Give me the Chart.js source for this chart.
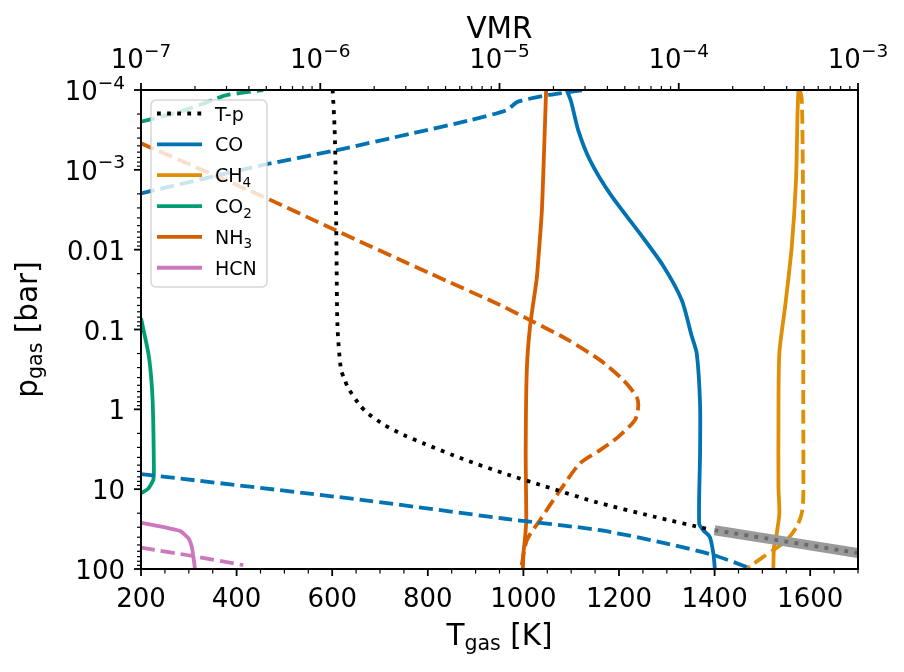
<!DOCTYPE html>
<html>
<head>
<meta charset="utf-8">
<title>T-p and VMR</title>
<script src="https://cdn.jsdelivr.net/npm/chart.js@4.4.1/dist/chart.umd.min.js"></script>
<style>
  html, body { margin: 0; padding: 0; background: #fff; }
  #wrap { width: 904px; height: 672px; position: relative; }
</style>
</head>
<body>
<div id="wrap"><canvas id="graph"></canvas></div>
<script>
// --- T-p profile (bottom axis, K) ---
const tpP = [1e-4, 3e-4, 1e-3, 0.01, 0.09, 0.31, 0.41, 0.55, 0.89, 1.13, 1.58, 2.1, 2.67, 4.2, 6.3, 9.1, 14.4, 22, 31.7];
const tpT = [601, 605, 607, 609, 611, 618, 625, 634, 658, 675, 710, 750, 791, 874, 958, 1042, 1150, 1272, 1387];

// grey band beyond the model
const bandP = [32.7, 63];
const bandT = [1400, 1700];

// --- VMR (top axis) : solid and dashed curves ---
const coP = [1e-4, 1.4e-4, 3.2e-4, 7.6e-4, 2e-3, 6.3e-3, 0.016, 0.043, 0.12, 0.2, 0.85, 3.5, 26.9, 32.7, 39.6, 64, 100];
const coV = [2.37e-5, 2.51e-5, 2.75e-5, 3.2e-5, 4.14e-5, 6.08e-5, 8.2e-5, 1.04e-4, 1.18e-4, 1.26e-4, 1.315e-4, 1.315e-4, 1.30e-4, 1.37e-4, 1.49e-4, 1.56e-4, 1.59e-4];
const coDashTopP = [1.97e-3, 8.7e-4, 5.75e-4, 3.47e-4, 2.4e-4, 1.78e-4, 1.41e-4, 1.15e-4, 1e-4];
const coDashTopV = [1e-7, 4.8e-7, 1.2e-6, 3.3e-6, 6.8e-6, 1.1e-5, 1.26e-5, 1.9e-5, 3.0e-5];
const coDashLowP = [6.46, 13.7, 23.3, 32.7, 48, 67.1, 94.2, 100];
const coDashLowV = [1e-7, 1.74e-6, 1.05e-5, 3.64e-5, 8.57e-5, 1.56e-4, 2.39e-4, 2.49e-4];

const ch4P = [1e-4, 1.9e-4, 1.34e-3, 9.2e-3, 0.052, 0.2, 1.36, 9.35, 20.2, 36, 52.8, 100];
const ch4V = [4.65e-4, 4.6e-4, 4.51e-4, 4.27e-4, 3.92e-4, 3.64e-4, 3.6e-4, 3.6e-4, 3.64e-4, 3.52e-4, 3.4e-4, 3.37e-4];
const ch4DashP = [1e-4, 1.26e-4, 5.1e-4, 0.01, 1, 12.6, 20.2, 29.6, 43.6, 58, 70.5, 89.5, 100];
const ch4DashV = [4.74e-4, 4.85e-4, 4.91e-4, 4.95e-4, 4.95e-4, 4.95e-4, 4.85e-4, 4.55e-4, 4.0e-4, 3.37e-4, 2.96e-4, 2.55e-4, 2.37e-4];

const co2P = [0.072, 0.2, 0.52, 1.36, 5.8, 7.7, 9.8, 11.3];
const co2V = [1e-7, 1.1e-7, 1.15e-7, 1.17e-7, 1.18e-7, 1.17e-7, 1.1e-7, 1.0e-7];
const co2DashP = [2.5e-4, 1.87e-4, 1.33e-4, 1.16e-4, 1e-4];
const co2DashV = [1e-7, 1.65e-7, 2.53e-7, 3.0e-7, 4.8e-7];

const nh3P = [1e-4, 1.34e-3, 3.5e-3, 0.0149, 0.024, 0.0925, 0.323, 3.57, 24.5, 39.6, 64, 100];
const nh3V = [1.82e-5, 1.75e-5, 1.72e-5, 1.64e-5, 1.61e-5, 1.48e-5, 1.42e-5, 1.40e-5, 1.41e-5, 1.39e-5, 1.36e-5, 1.35e-5];
const nh3DashP = [4.66e-4, 2.17e-3, 5.68e-3, 0.0198, 0.0494, 0.0762, 0.132, 0.242, 0.431, 0.697, 0.931, 1.36, 2.21, 3.24, 4.76, 10.3, 24.5, 43.6, 89.5];
const nh3DashV = [1e-7, 4.81e-7, 1.21e-6, 4.09e-6, 1.007e-5, 1.479e-5, 2.37e-5, 3.64e-5, 4.91e-5, 5.82e-5, 5.94e-5, 5.70e-5, 4.60e-5, 3.64e-5, 2.81e-5, 2.18e-5, 1.68e-5, 1.42e-5, 1.33e-5];

const hcnP = [26.4, 33.3, 41.4, 52.5, 70, 100];
const hcnV = [1.01e-7, 1.65e-7, 1.84e-7, 1.92e-7, 1.96e-7, 2.0e-7];
const hcnDashP = [54, 69, 89.5];
const hcnDashV = [1e-7, 1.96e-7, 3.72e-7];

// axis ticks
const tTicks = [200, 400, 600, 800, 1000, 1200, 1400, 1600];
const pTicks = [1e-4, 1e-3, 0.01, 0.1, 1, 10, 100];
const pTickLabels = ['-4', '-3', '0.01', '0.1', '1', '10', '100'];
const vmrTicks = [1e-7, 1e-6, 1e-5, 1e-4, 1e-3];

const couleurs = { CO: '#0173b2', CH4: '#de8f05', CO2: '#029e73', NH3: '#d55e00', HCN: '#cc78bc' };
const FONT = '"DejaVu Sans", sans-serif';
const LW = 3.8;
const TIRETS = [14, 6];
const POINTS = [3.8, 6.3];

function courbe(pArr, vals, color, dashed, axe) {
    return {
        data: pArr.map((p, i) => ({ x: vals[i], y: p })),
        xAxisID: axe || 'x2',
        yAxisID: 'y',
        borderColor: color,
        borderWidth: LW,
        borderDash: dashed ? TIRETS : [],
        pointRadius: 0,
        fill: false,
        tension: 0.25,
        clip: 0,
        order: 5
    };
}

const datasets = [
    Object.assign(courbe(tpP, tpT, '#000000', false, 'x'), { borderDash: POINTS, order: 0 }),
    Object.assign(courbe(bandP, bandT, '#6a6a6a', false, 'x'), { borderDash: POINTS, order: 1 }),
    Object.assign(courbe(bandP, bandT, '#9a9a9a', false, 'x'), { borderWidth: 10, order: 2 }),
    courbe(coP, coV, couleurs.CO, false),
    courbe(coDashTopP, coDashTopV, couleurs.CO, true),
    courbe(coDashLowP, coDashLowV, couleurs.CO, true),
    courbe(ch4P, ch4V, couleurs.CH4, false),
    courbe(ch4DashP, ch4DashV, couleurs.CH4, true),
    Object.assign(courbe(co2P, co2V, couleurs.CO2, false), { tension: 0.15 }),
    courbe(co2DashP, co2DashV, couleurs.CO2, true),
    courbe(nh3P, nh3V, couleurs.NH3, false),
    courbe(nh3DashP, nh3DashV, couleurs.NH3, true),
    Object.assign(courbe(hcnP, hcnV, couleurs.HCN, false), { tension: 0.15 }),
    courbe(hcnDashP, hcnDashV, couleurs.HCN, true)
];

// texte avec indice / exposant : parts = [[texte, taille, décalage], ...]
function largeur(ctx, parts) {
    let w = 0;
    for (const [t, s] of parts) { ctx.font = `${s}px ${FONT}`; w += ctx.measureText(t).width; }
    return w;
}
function ecrire(ctx, parts, x, y) {
    ctx.textAlign = 'left';
    ctx.textBaseline = 'alphabetic';
    for (const [t, s, dy] of parts) {
        ctx.font = `${s}px ${FONT}`;
        ctx.fillText(t, x, y + (dy || 0));
        x += ctx.measureText(t).width;
    }
}
function puissance(exp) {
    return [['10', 26, 0], ['\u2212' + exp, 18.5, -11.5]];
}

const legendeItems = [
    { label: [['T-p', 19]], color: '#000', dotted: true },
    { label: [['CO', 19]], color: couleurs.CO },
    { label: [['CH', 19], ['4', 13.5, 4.5]], color: couleurs.CH4 },
    { label: [['CO', 19], ['2', 13.5, 4.5]], color: couleurs.CO2 },
    { label: [['NH', 19], ['3', 13.5, 4.5]], color: couleurs.NH3 },
    { label: [['HCN', 19]], color: couleurs.HCN }
];

const axesPlugin = {
    id: 'axesMatplotlib',
    afterDraw(chart) {
        const ctx = chart.ctx;
        const a = chart.chartArea;
        const sx = chart.scales.x, sv = chart.scales.x2, sy = chart.scales.y;
        ctx.save();
        ctx.fillStyle = '#000';
        ctx.strokeStyle = '#000';

        // ticks
        const tick = (x1, y1, x2, y2, w) => {
            ctx.lineWidth = w; ctx.beginPath(); ctx.moveTo(x1, y1); ctx.lineTo(x2, y2); ctx.stroke();
        };
        for (let t = 200; t <= 1700; t += 50) {
            const x = sx.getPixelForValue(t);
            const major = t % 200 === 0;
            tick(x, a.bottom, x, a.bottom + (major ? 7 : 4.5), major ? 1.8 : 1.2);
        }
        for (let e = -7; e < -3; e++) {
            for (let m = 1; m < 10; m++) {
                const x = sv.getPixelForValue(m * Math.pow(10, e));
                tick(x, a.top, x, a.top - (m === 1 ? 7 : 4), m === 1 ? 1.8 : 1.2);
            }
        }
        tick(a.right, a.top, a.right, a.top - 7, 1.8);
        for (let e = -4; e < 2; e++) {
            for (let m = 1; m < 10; m++) {
                const y = sy.getPixelForValue(m * Math.pow(10, e));
                tick(a.left, y, a.left - (m === 1 ? 7 : 4), y, m === 1 ? 1.8 : 1.2);
            }
        }
        tick(a.left, a.bottom, a.left - 7, a.bottom, 1.8);

        // cadre
        ctx.lineWidth = 2;
        ctx.strokeRect(a.left, a.top, a.right - a.left, a.bottom - a.top);

        // labels bas
        ctx.font = `26px ${FONT}`;
        ctx.textAlign = 'center';
        ctx.textBaseline = 'alphabetic';
        tTicks.forEach(t => ctx.fillText(String(t), sx.getPixelForValue(t), a.bottom + 38));

        // labels haut
        vmrTicks.forEach(v => {
            const parts = puissance(Math.round(-Math.log10(v)));
            const w = largeur(ctx, parts);
            ecrire(ctx, parts, sv.getPixelForValue(v) - w / 2, a.top - 22);
        });

        // labels gauche
        pTicks.forEach((p, i) => {
            const y = sy.getPixelForValue(p) + 10;
            const lab = pTickLabels[i];
            const parts = lab.startsWith('-') ? puissance(lab.slice(1)) : [[lab, 26, 0]];
            const w = largeur(ctx, parts);
            ecrire(ctx, parts, a.left - 16 - w, y);
        });

        // titres
        const cx = (a.left + a.right) / 2;
        const vmr = [['VMR', 29.5, 0]];
        ecrire(ctx, vmr, cx - largeur(ctx, vmr) / 2, 38);
        const tg = [['T', 29.5, 0], ['gas', 20.6, 4.5], [' [K]', 29.5, 0]];
        ecrire(ctx, tg, cx - largeur(ctx, tg) / 2, 645);
        const pg = [['p', 29.5, 0], ['gas', 20.6, 4.5], [' [bar]', 29.5, 0]];
        ctx.save();
        ctx.translate(37, (a.top + a.bottom) / 2);
        ctx.rotate(-Math.PI / 2);
        ecrire(ctx, pg, -largeur(ctx, pg) / 2, 0);
        ctx.restore();

        // légende
        const lx = 151, ly = 100, lw = 116, lh = 187;
        ctx.beginPath();
        ctx.roundRect(lx, ly, lw, lh, 5);
        ctx.fillStyle = 'rgba(255,255,255,0.8)';
        ctx.fill();
        ctx.strokeStyle = 'rgba(204,204,204,0.8)';
        ctx.lineWidth = 1.5;
        ctx.stroke();
        legendeItems.forEach((it, i) => {
            const y = 113.5 + i * 30.85;
            ctx.strokeStyle = it.color;
            ctx.lineWidth = LW;
            ctx.setLineDash(it.dotted ? POINTS : []);
            ctx.beginPath(); ctx.moveTo(157, y); ctx.lineTo(202, y); ctx.stroke();
            ctx.setLineDash([]);
            ctx.fillStyle = '#000';
            ecrire(ctx, it.label, 215, y + 7);
        });
        ctx.restore();
    }
};

new Chart(document.getElementById('graph'), {
    type: 'line',
    data: { datasets },
    options: {
        responsive: true,
        maintainAspectRatio: false,
        animation: false,
        events: [],
        layout: { padding: { left: 141, right: 46, top: 90, bottom: 103 } },
        plugins: { legend: { display: false }, tooltip: { enabled: false } },
        scales: {
            x: { type: 'linear', min: 200, max: 1700, display: false },
            x2: { type: 'logarithmic', min: 1e-7, max: 1e-3, display: false },
            y: { type: 'logarithmic', min: 1e-4, max: 100, reverse: true, display: false }
        }
    },
    plugins: [axesPlugin]
});
</script>
</body>
</html>
